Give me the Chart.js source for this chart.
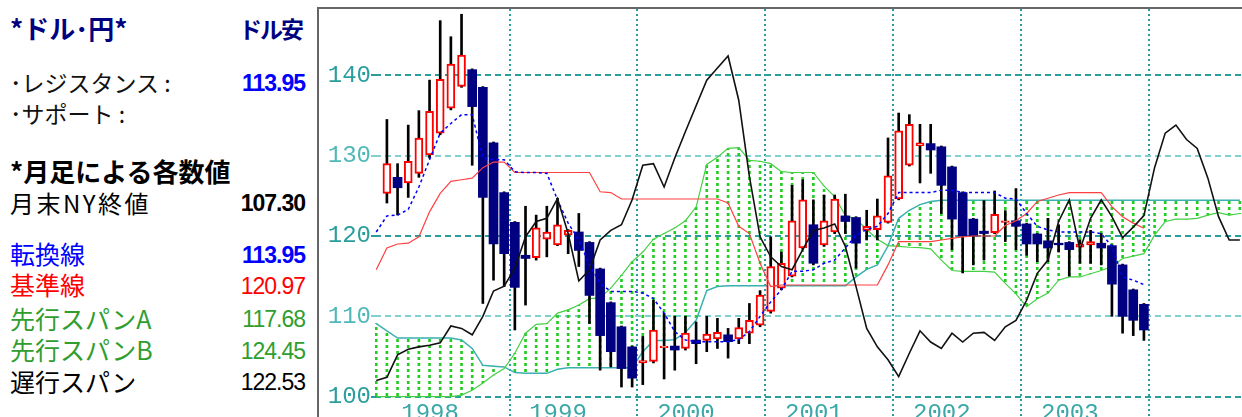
<!DOCTYPE html>
<html>
<head>
<meta charset="utf-8">
<script src="https://cdn.jsdelivr.net/npm/chart.js@4.4.1/dist/chart.umd.min.js"></script>
<style>
body { margin: 0; width: 1242px; height: 417px; overflow: hidden; background: #fff; position: relative; font-family: "Noto Sans CJK JP", sans-serif; }
.t { position: absolute; white-space: nowrap; line-height: 1; }
.v { position: absolute; left: 180px; width: 125px; text-align: right; font-family: "Liberation Sans", Arial, sans-serif; font-size: 23px; line-height: 1; letter-spacing: -1px; white-space: nowrap; }
#frame { position: absolute; left: 317px; top: 7px; width: 923px; height: 408px; border-top: 2px solid #666; border-left: 2px solid #666; }
#frame canvas { display: block; }
</style>
</head>
<body>
<div class="t" style="left:10px;top:15px;font-size:26px;font-weight:bold;color:#000080">*ドル･円*</div>
<div class="t" style="left:200px;width:102px;text-align:right;top:17px;font-size:23px;font-weight:bold;color:#000080;letter-spacing:-2px">ドル安</div>

<div class="t" style="left:10px;top:71px;font-size:23px;color:#111">･レジスタンス :</div>
<div class="v" style="top:72px;font-weight:bold;color:#0000ff">113.95</div>
<div class="t" style="left:10px;top:102px;font-size:23px;color:#111">･サポート :</div>

<div class="t" style="left:10px;top:158px;font-size:26px;font-weight:bold;color:#000">*月足による各数値</div>
<div class="t" style="left:10px;top:191px;font-size:24px;color:#000;letter-spacing:2.5px">月末NY終値</div>
<div class="v" style="top:192px;font-weight:bold;color:#000">107.30</div>

<div class="t" style="left:10px;top:241px;font-size:25px;color:#0000ff">転換線</div>
<div class="v" style="top:244px;font-weight:bold;color:#0000ff">113.95</div>
<div class="t" style="left:10px;top:272px;font-size:25px;color:#ff0000">基準線</div>
<div class="v" style="top:275px;color:#ff0000">120.97</div>
<div class="t" style="left:10px;top:306px;font-size:25px;color:#2f9e2f">先行スパンA</div>
<div class="v" style="top:308px;color:#2f9e2f">117.68</div>
<div class="t" style="left:10px;top:337px;font-size:25px;color:#2f9e2f">先行スパンB</div>
<div class="v" style="top:340px;color:#2f9e2f">124.45</div>
<div class="t" style="left:10px;top:369px;font-size:25px;color:#000">遅行スパン</div>
<div class="v" style="top:371px;color:#000">122.53</div>

<div id="frame"><canvas id="chart" width="923" height="408"></canvas></div>

<script>
const years = ['1998', '1999', '2000', '2001', '2002', '2003'];
const yTicks = [100, 110, 120, 130, 140];

// monthly candles, Jan 1998 - Dec 2003
const opens = [125.3, 127.3, 126.6, 127.8, 130.1, 132.8, 135.9, 138.6, 140.7, 138.5, 131.6, 125.4,
    121.7, 117.6, 117.3, 119.6, 118.9, 120.1, 120.5, 119.2, 115.9, 111.7, 108.7, 106.2,
    104.2, 104.4, 106.1, 106.3, 106.0, 107.05, 107.0, 107.2, 107.7, 107.2, 107.9, 108.9,
    110.6, 113.5, 115.0, 118.5, 121.4, 118.9, 120.5, 122.5, 122.3, 120.7, 120.8, 121.7,
    124.6, 128.8, 131.2, 131.5, 131.1, 128.6, 125.4, 122.1, 120.6, 120.4, 121.7, 121.9,
    121.5, 120.25, 119.4, 119.1, 119.2, 118.6, 118.9, 119.1, 118.8, 116.4, 113.3, 111.5];
const highs = [134.5, 129.0, 133.8, 135.6, 139.4, 146.8, 144.8, 147.6, 140.8, 138.6, 131.7, 125.5,
    121.8, 123.7, 122.6, 123.7, 124.7, 120.8, 122.8, 119.3, 116.0, 111.8, 108.8, 106.3,
    107.5, 112.0, 110.4, 110.0, 110.0, 109.3, 110.0, 109.75, 108.5, 109.75, 111.6, 113.2,
    119.9, 118.0, 126.3, 127.0, 124.5, 125.1, 125.1, 125.2, 122.4, 123.2, 124.6, 132.2,
    135.3, 135.1, 133.9, 133.9, 131.2, 128.7, 125.5, 122.2, 124.4, 125.6, 123.15, 125.9,
    121.6, 120.3, 122.2, 121.4, 119.3, 119.5, 120.7, 120.3, 118.9, 116.5, 113.4, 111.6];
const lows = [124.1, 122.6, 124.8, 127.3, 129.7, 132.6, 135.7, 138.5, 128.8, 111.6, 114.5, 113.7,
    108.3, 111.4, 117.0, 117.4, 118.8, 117.8, 116.2, 109.1, 103.3, 103.7, 101.2, 101.2,
    101.5, 104.2, 102.2, 103.3, 105.8, 104.1, 105.6, 106.0, 104.8, 106.6, 106.6, 108.7,
    110.4, 113.3, 114.9, 118.4, 116.4, 118.7, 120.3, 120.3, 116.0, 119.5, 119.5, 121.6,
    124.5, 128.7, 126.6, 127.8, 122.8, 118.3, 115.4, 116.4, 117.0, 120.3, 119.3, 118.3,
    117.6, 116.8, 116.8, 118.0, 115.0, 116.6, 116.6, 116.4, 110.0, 107.9, 107.6, 107.0];
const closes = [129.0, 126.0, 129.3, 132.2, 135.5, 139.5, 141.4, 142.5, 136.1, 124.8, 119.0, 117.8,
    113.6, 117.2, 121.0, 120.5, 121.4, 120.7, 118.2, 112.6, 107.6, 105.6, 103.5, 102.3,
    104.5, 108.3, 106.3, 105.8, 107.9, 106.6, 107.8, 108.0, 106.85, 108.6, 109.5, 112.65,
    116.2, 116.6, 121.9, 124.5, 116.6, 121.9, 124.6, 121.8, 119.1, 121.2, 122.5, 127.5,
    133.1, 133.9, 131.6, 130.7, 126.3, 122.1, 120.0, 120.0, 120.3, 122.7, 121.9, 121.2,
    119.0, 119.0, 118.5, 118.9, 118.3, 119.0, 119.3, 118.5, 114.0, 110.0, 109.5, 108.3];

// the lines start one month before the first candle (Dec 1997)
const tenkan = [120.5, 122.5, 122.6, 123.3, 126.1, 129.5, 132.8, 134.0, 135.1, 135.1, 129.7, 129.5, 129.5,
    128.0, 127.9, 127.9, 127.8, 124.5, 121.6, 119.5, 116.4, 114.1, 113.1, 113.1, 113.1,
    112.9, 112.2, 110.4, 108.1, 107.05, 106.85, 106.85, 106.85, 106.85, 107.1, 108.1, 110.0,
    111.8, 113.3, 115.6, 115.6, 115.8, 116.6, 117.0, 118.5, 120.1, 120.8, 121.2, 122.8,
    125.4, 125.4, 125.4, 125.4, 125.7, 125.7, 125.4, 125.4, 125.4, 125.4, 124.7, 124.6,
    122.8, 121.2, 120.75, 120.5, 120.5, 120.5, 120.5, 120.3, 118.7, 114.9, 114.5, 113.95];
const kijun = [115.8, 118.5, 119.0, 119.1, 119.9, 123.0, 125.3, 126.8, 127.0, 127.2, 128.5, 129.2, 129.2,
    127.9, 127.9, 127.9, 127.9, 127.9, 127.9, 127.9, 127.9, 125.5, 125.4, 124.6, 124.6,
    124.6, 124.6, 124.6, 124.6, 124.6, 124.6, 124.6, 124.6, 124.1, 121.2, 120.3, 116.6,
    113.7, 113.9, 113.9, 113.9, 113.9, 113.9, 113.9, 113.9, 113.9, 113.9, 113.9, 116.4,
    119.3, 119.3, 119.3, 119.3, 119.5, 119.7, 119.9, 120.0, 120.0, 120.0, 121.3, 121.9,
    122.8, 124.3, 124.7, 125.1, 125.4, 125.4, 125.4, 125.4, 123.65, 122.4, 121.6, 120.97];
// cloud and lagging line run on to Aug 2004
const spanA = [100.0, 100.0, 100.0, 100.0, 100.0, 100.0, 100.0, 100.0, 100.2, 100.8, 101.7, 102.7, 103.5,
    105.4, 107.9, 109.0, 109.1, 110.4, 110.8, 111.4, 112.2, 112.3, 113.5, 115.1, 116.8,
    118.0, 119.6, 120.3, 121.0, 121.9, 123.6, 128.9, 129.8, 130.9, 131.0, 129.4, 129.3,
    129.0, 128.0, 127.9, 127.9, 127.9, 126.2, 124.9, 122.55, 122.1, 120.8, 119.6, 118.8,
    118.7, 118.6, 118.55, 118.4, 117.0, 115.7, 115.6, 115.6, 115.6, 115.5, 114.1, 112.8,
    111.2, 112.2, 112.9, 114.5, 114.9, 114.9, 115.3, 115.7, 116.2, 117.2, 117.5, 117.8,
    120.1, 121.8, 122.1, 122.1, 122.2, 122.6, 122.9, 122.6, 122.8];
const spanB = [109.1, 108.2, 107.3, 107.3, 107.3, 107.3, 107.3, 107.3, 107.05, 106.0, 103.9, 103.8, 103.7,
    103.0, 102.9, 102.9, 102.9, 103.4, 103.6, 103.6, 103.6, 103.6, 103.6, 103.6, 103.6,
    105.6, 107.0, 107.0, 107.1, 108.0, 109.5, 113.2, 113.7, 113.8, 113.8, 113.8, 113.8,
    113.8, 113.8, 113.8, 113.8, 113.8, 113.8, 113.8, 113.8, 114.9, 115.85, 116.4, 118.75,
    122.2, 123.2, 123.9, 124.3, 124.45, 124.45, 124.45, 124.45, 124.45, 124.45, 124.45, 124.45,
    124.45, 124.45, 124.45, 124.45, 124.45, 124.45, 124.45, 124.45, 124.45, 124.45, 124.45, 124.45,
    124.45, 124.45, 124.45, 124.45, 124.45, 124.45, 124.45, 124.45, 124.45];
const chikou = [102.0, 102.4, 105.2, 105.9, 106.2, 106.4, 106.7, 108.8, 108.5, 107.7, 110.0, 113.15, 113.75,
    116.0, 119.9, 121.8, 122.2, 124.65, 120.3, 114.4, 115.8, 119.5, 120.7, 121.4, 124.5,
    128.8, 129.0, 126.1, 129.7, 133.0, 136.2, 139.4, 140.9, 142.4, 136.9, 127.4, 119.9,
    117.4, 116.2, 115.8, 118.3, 120.7, 121.0, 121.5, 118.7, 113.7, 108.5, 106.2, 104.6,
    102.5, 105.4, 108.2, 106.8, 106.0, 107.9, 106.8, 107.9, 108.0, 107.0, 108.7, 109.5,
    112.0, 115.35, 117.0, 121.8, 124.5, 118.3, 122.2, 124.5, 122.4, 119.8, 121.1, 122.53,
    128.5, 132.8, 133.8, 132.0, 130.9, 127.2, 122.4, 119.5, 119.5];

const TEAL = '#2a9d9d';
const TEAL_LIGHT = '#80d0d0';

// points for series that start one month before the candles
const fromPrev = arr => arr.map((v, k) => ({ x: k - 1, y: v }));

const upIdx = opens.map((o, i) => i).filter(i => closes[i] >= opens[i]);
const downIdx = opens.map((o, i) => i).filter(i => closes[i] < opens[i]);

// dotted green hatch for the cloud
const pc = document.createElement('canvas');
pc.width = 2;
pc.height = 6;
const pctx = pc.getContext('2d');
pctx.fillStyle = '#22cc22';
pctx.fillRect(0, 0, 2, 3);
const hatch = pctx.createPattern(pc, 'repeat');

const yearLabels = {
    id: 'yearLabels',
    afterDraw(chart) {
        const { ctx, chartArea, scales: { x } } = chart;
        ctx.save();
        ctx.font = '24px "Liberation Mono"';
        ctx.fillStyle = '#3aa8a8';
        ctx.textAlign = 'center';
        ctx.textBaseline = 'top';
        years.forEach((y, k) => {
            ctx.fillText(y, x.getPixelForValue(12 * k + 4.05), chartArea.bottom - 15);
        });
        ctx.restore();
    }
};

new Chart(document.getElementById('chart'), {
    type: 'bar',
    data: {
        datasets: [
            {
                type: 'bar',
                data: spanA.map((a, k) => ({ x: k - 1, y: [a, spanB[k]] })),
                backgroundColor: hatch,
                barThickness: 2,
                grouped: false,
                order: 10
            },
            {
                type: 'line',
                data: fromPrev(spanB),
                borderColor: '#3ab0b0',
                borderWidth: 1.5,
                pointRadius: 0,
                order: 9
            },
            {
                type: 'line',
                data: fromPrev(spanA),
                borderColor: '#44d044',
                borderWidth: 1.2,
                pointRadius: 0,
                order: 8
            },
            {
                type: 'bar',
                data: opens.map((o, i) => ({ x: i, y: [lows[i], highs[i]] })),
                backgroundColor: '#000',
                barThickness: 2,
                grouped: false,
                order: 7
            },
            {
                type: 'bar',
                data: upIdx.map(i => ({ x: i, y: [opens[i], closes[i]] })),
                backgroundColor: '#fff',
                borderColor: '#ff0000',
                borderWidth: 2,
                borderSkipped: false,
                barThickness: 8,
                grouped: false,
                order: 6
            },
            {
                type: 'bar',
                data: downIdx.map(i => ({ x: i, y: [opens[i], closes[i]] })),
                backgroundColor: '#000080',
                barThickness: 9,
                grouped: false,
                order: 5
            },
            {
                type: 'line',
                data: fromPrev(kijun),
                borderColor: '#ff4040',
                borderWidth: 1.2,
                pointRadius: 0,
                order: 4
            },
            {
                type: 'line',
                data: fromPrev(tenkan),
                borderColor: '#0000ff',
                borderWidth: 1.5,
                borderDash: [3, 3],
                pointRadius: 0,
                order: 3
            },
            {
                type: 'line',
                data: fromPrev(chikou),
                borderColor: '#111',
                borderWidth: 1.6,
                pointRadius: 0,
                order: 2
            }
        ]
    },
    options: {
        responsive: false,
        animation: false,
        layout: { padding: 0 },
        plugins: {
            legend: { display: false },
            tooltip: { enabled: false }
        },
        scales: {
            x: {
                type: 'linear',
                min: -1.116,
                max: 80.2,
                offset: false,
                afterBuildTicks: s => { s.ticks = years.map((y, k) => ({ value: 12 * k + 11.5 })); },
                afterFit: s => { s.height = 0; s.paddingLeft = 0; s.paddingRight = 0; },
                ticks: { display: false },
                grid: { color: TEAL, lineWidth: 2, drawTicks: false, offset: false },
                border: { display: false, dash: [2, 3] }
            },
            y: {
                min: 97.47,
                max: 148.25,
                afterBuildTicks: s => { s.ticks = yTicks.map(v => ({ value: v })); },
                afterFit: s => { s.width = 56; s.paddingTop = 0; s.paddingBottom = 0; },
                ticks: {
                    padding: 0,
                    font: { family: 'Liberation Mono', size: 24 },
                    color: ctx => ctx.tick.value % 20 === 0 ? TEAL : '#50b8b8'
                },
                grid: {
                    color: ctx => ctx.tick.value % 20 === 0 ? TEAL : TEAL_LIGHT,
                    lineWidth: 2,
                    tickLength: 4,
                    tickBorderDash: []
                },
                border: { display: false, dash: [6, 4] }
            }
        }
    },
    plugins: [yearLabels]
});
</script>
</body>
</html>
